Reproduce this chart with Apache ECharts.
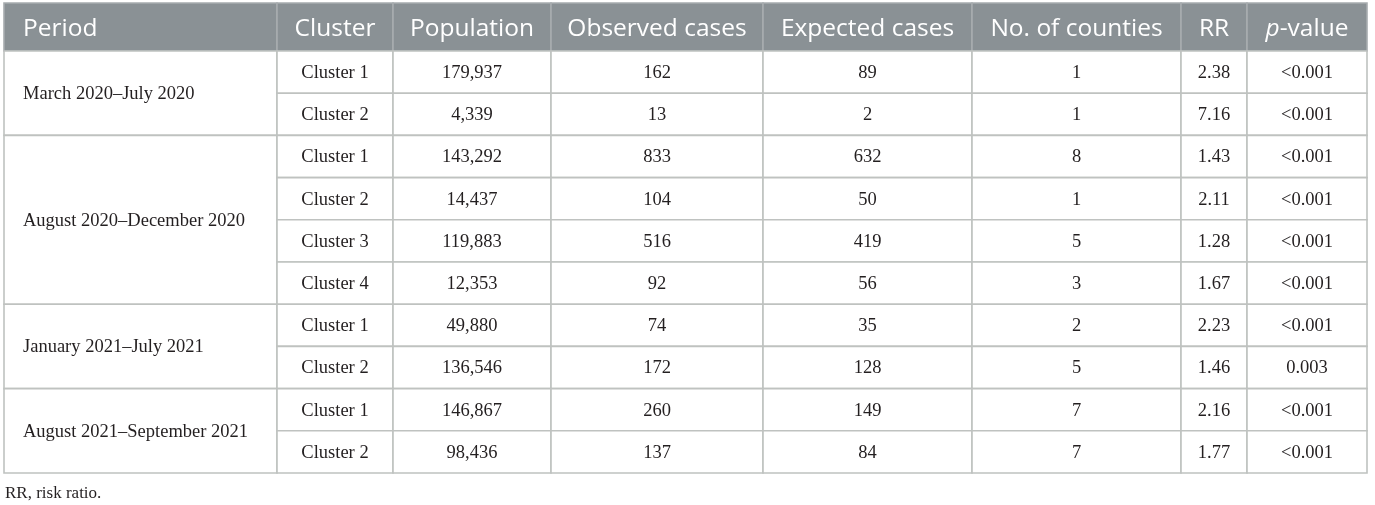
<!DOCTYPE html>
<html>
<head>
<meta charset="utf-8">
<script src="https://cdn.jsdelivr.net/npm/echarts@6/dist/echarts.min.js"></script>
<style>
  html, body { margin: 0; padding: 0; background: #fff; }
  #main { width: 1375px; height: 505px; }
</style>
</head>
<body>
<div id="main"></div>
<script>
// ---- table data ----
var headers = ['Period', 'Cluster', 'Population', 'Observed cases', 'Expected cases', 'No. of counties', 'RR', 'p-value'];
var periods = ['March 2020–July 2020', 'August 2020–December 2020', 'January 2021–July 2021', 'August 2021–September 2021'];
var clustersPerPeriod = [2, 4, 2, 2];
var clusters = ['Cluster 1', 'Cluster 2', 'Cluster 1', 'Cluster 2', 'Cluster 3', 'Cluster 4', 'Cluster 1', 'Cluster 2', 'Cluster 1', 'Cluster 2'];
var population = [179937, 4339, 143292, 14437, 119883, 12353, 49880, 136546, 146867, 98436];
var observed = [162, 13, 833, 104, 516, 92, 74, 172, 260, 137];
var expected = [89, 2, 632, 50, 419, 56, 35, 128, 149, 84];
var counties = [1, 1, 8, 1, 5, 3, 2, 5, 7, 7];
var riskRatio = [2.38, 7.16, 1.43, 2.11, 1.28, 1.67, 2.23, 1.46, 2.16, 1.77];
var pValues = ['<0.001', '<0.001', '<0.001', '<0.001', '<0.001', '<0.001', '<0.001', '0.003', '<0.001', '<0.001'];
var footnote = 'RR, risk ratio.';

// ---- layout (axis units = px inside the grid) ----
var colEdges = [0, 273, 389, 547, 759, 968, 1177, 1243, 1363];
var headerH = 48;
var rowH = 42.2;
var tableH = headerH + rowH * clusters.length;

function rowEdge(r) {
    return r === 0 ? 0 : headerH + (r - 1) * rowH;
}

// 每个单元格: 列范围, 行范围, 文字, 类型
var cells = [];
headers.forEach(function (h, c) {
    cells.push({ c0: c, c1: c + 1, r0: 0, r1: 1, text: h, kind: 'head' });
});
var r = 1;
periods.forEach(function (p, i) {
    cells.push({ c0: 0, c1: 1, r0: r, r1: r + clustersPerPeriod[i], text: p, kind: 'period' });
    r += clustersPerPeriod[i];
});
clusters.forEach(function (cl, i) {
    var row = [
        cl,
        population[i].toLocaleString('en-US'),
        String(observed[i]),
        String(expected[i]),
        String(counties[i]),
        riskRatio[i].toFixed(2),
        pValues[i]
    ];
    row.forEach(function (t, j) {
        cells.push({ c0: j + 1, c1: j + 2, r0: i + 1, r1: i + 2, text: t, kind: 'body' });
    });
});

function renderCell(params, api) {
    var cell = cells[params.dataIndex];
    var p0 = api.coord([api.value(0), api.value(1)]);
    var p1 = api.coord([api.value(2), api.value(3)]);
    var w = p1[0] - p0[0], h = p1[1] - p0[1];
    var isHead = cell.kind === 'head';
    var children = [{
        type: 'rect',
        shape: { x: p0[0], y: p0[1], width: w, height: h },
        style: {
            fill: isHead ? '#8a9195' : '#fff',
            stroke: isHead ? '#a7acaf' : '#bfc2c0',
            lineWidth: 1.6
        }
    }];
    var leftAlign = cell.c0 === 0;
    var txt = {
        type: 'text',
        style: {
            x: leftAlign ? p0[0] + 19 : p0[0] + w / 2,
            y: p0[1] + h / 2 + (isHead ? 2 : 1),
            align: leftAlign ? 'left' : 'center',
            verticalAlign: 'middle',
            text: cell.text,
            fill: isHead ? '#ffffff' : '#231f20',
            fontSize: isHead ? 24.5 : 18.5,
            fontFamily: isHead ? '"Open Sans", sans-serif' : '"Liberation Serif", serif'
        }
    };
    if (isHead && cell.text === 'p-value') {
        txt.style.text = '{i|p}-value';
        txt.style.rich = {
            i: { fontStyle: 'italic', fontSize: 24.5, fontFamily: '"Open Sans", sans-serif', fill: '#ffffff' }
        };
    }
    children.push(txt);
    return { type: 'group', children: children };
}

var option = {
    backgroundColor: '#ffffff',
    animation: false,
    title: {
        text: footnote,
        left: 5,
        top: 485,
        padding: 0,
        textStyle: {
            fontFamily: '"Liberation Serif", serif',
            fontSize: 17,
            fontWeight: 'normal',
            color: '#231f20'
        }
    },
    grid: { left: 4, top: 3, width: colEdges[colEdges.length - 1], height: tableH },
    xAxis: { type: 'value', min: 0, max: colEdges[colEdges.length - 1], show: false },
    yAxis: { type: 'value', min: 0, max: tableH, inverse: true, show: false },
    series: [{
        type: 'custom',
        silent: true,
        clip: false,
        renderItem: renderCell,
        data: cells.map(function (c) {
            return [colEdges[c.c0], rowEdge(c.r0), colEdges[c.c1], rowEdge(c.r1)];
        })
    }]
};

var myChart = echarts.init(document.getElementById('main'));
myChart.setOption(option);
window.addEventListener('resize', function () {
    myChart.resize();
});
</script>
</body>
</html>
